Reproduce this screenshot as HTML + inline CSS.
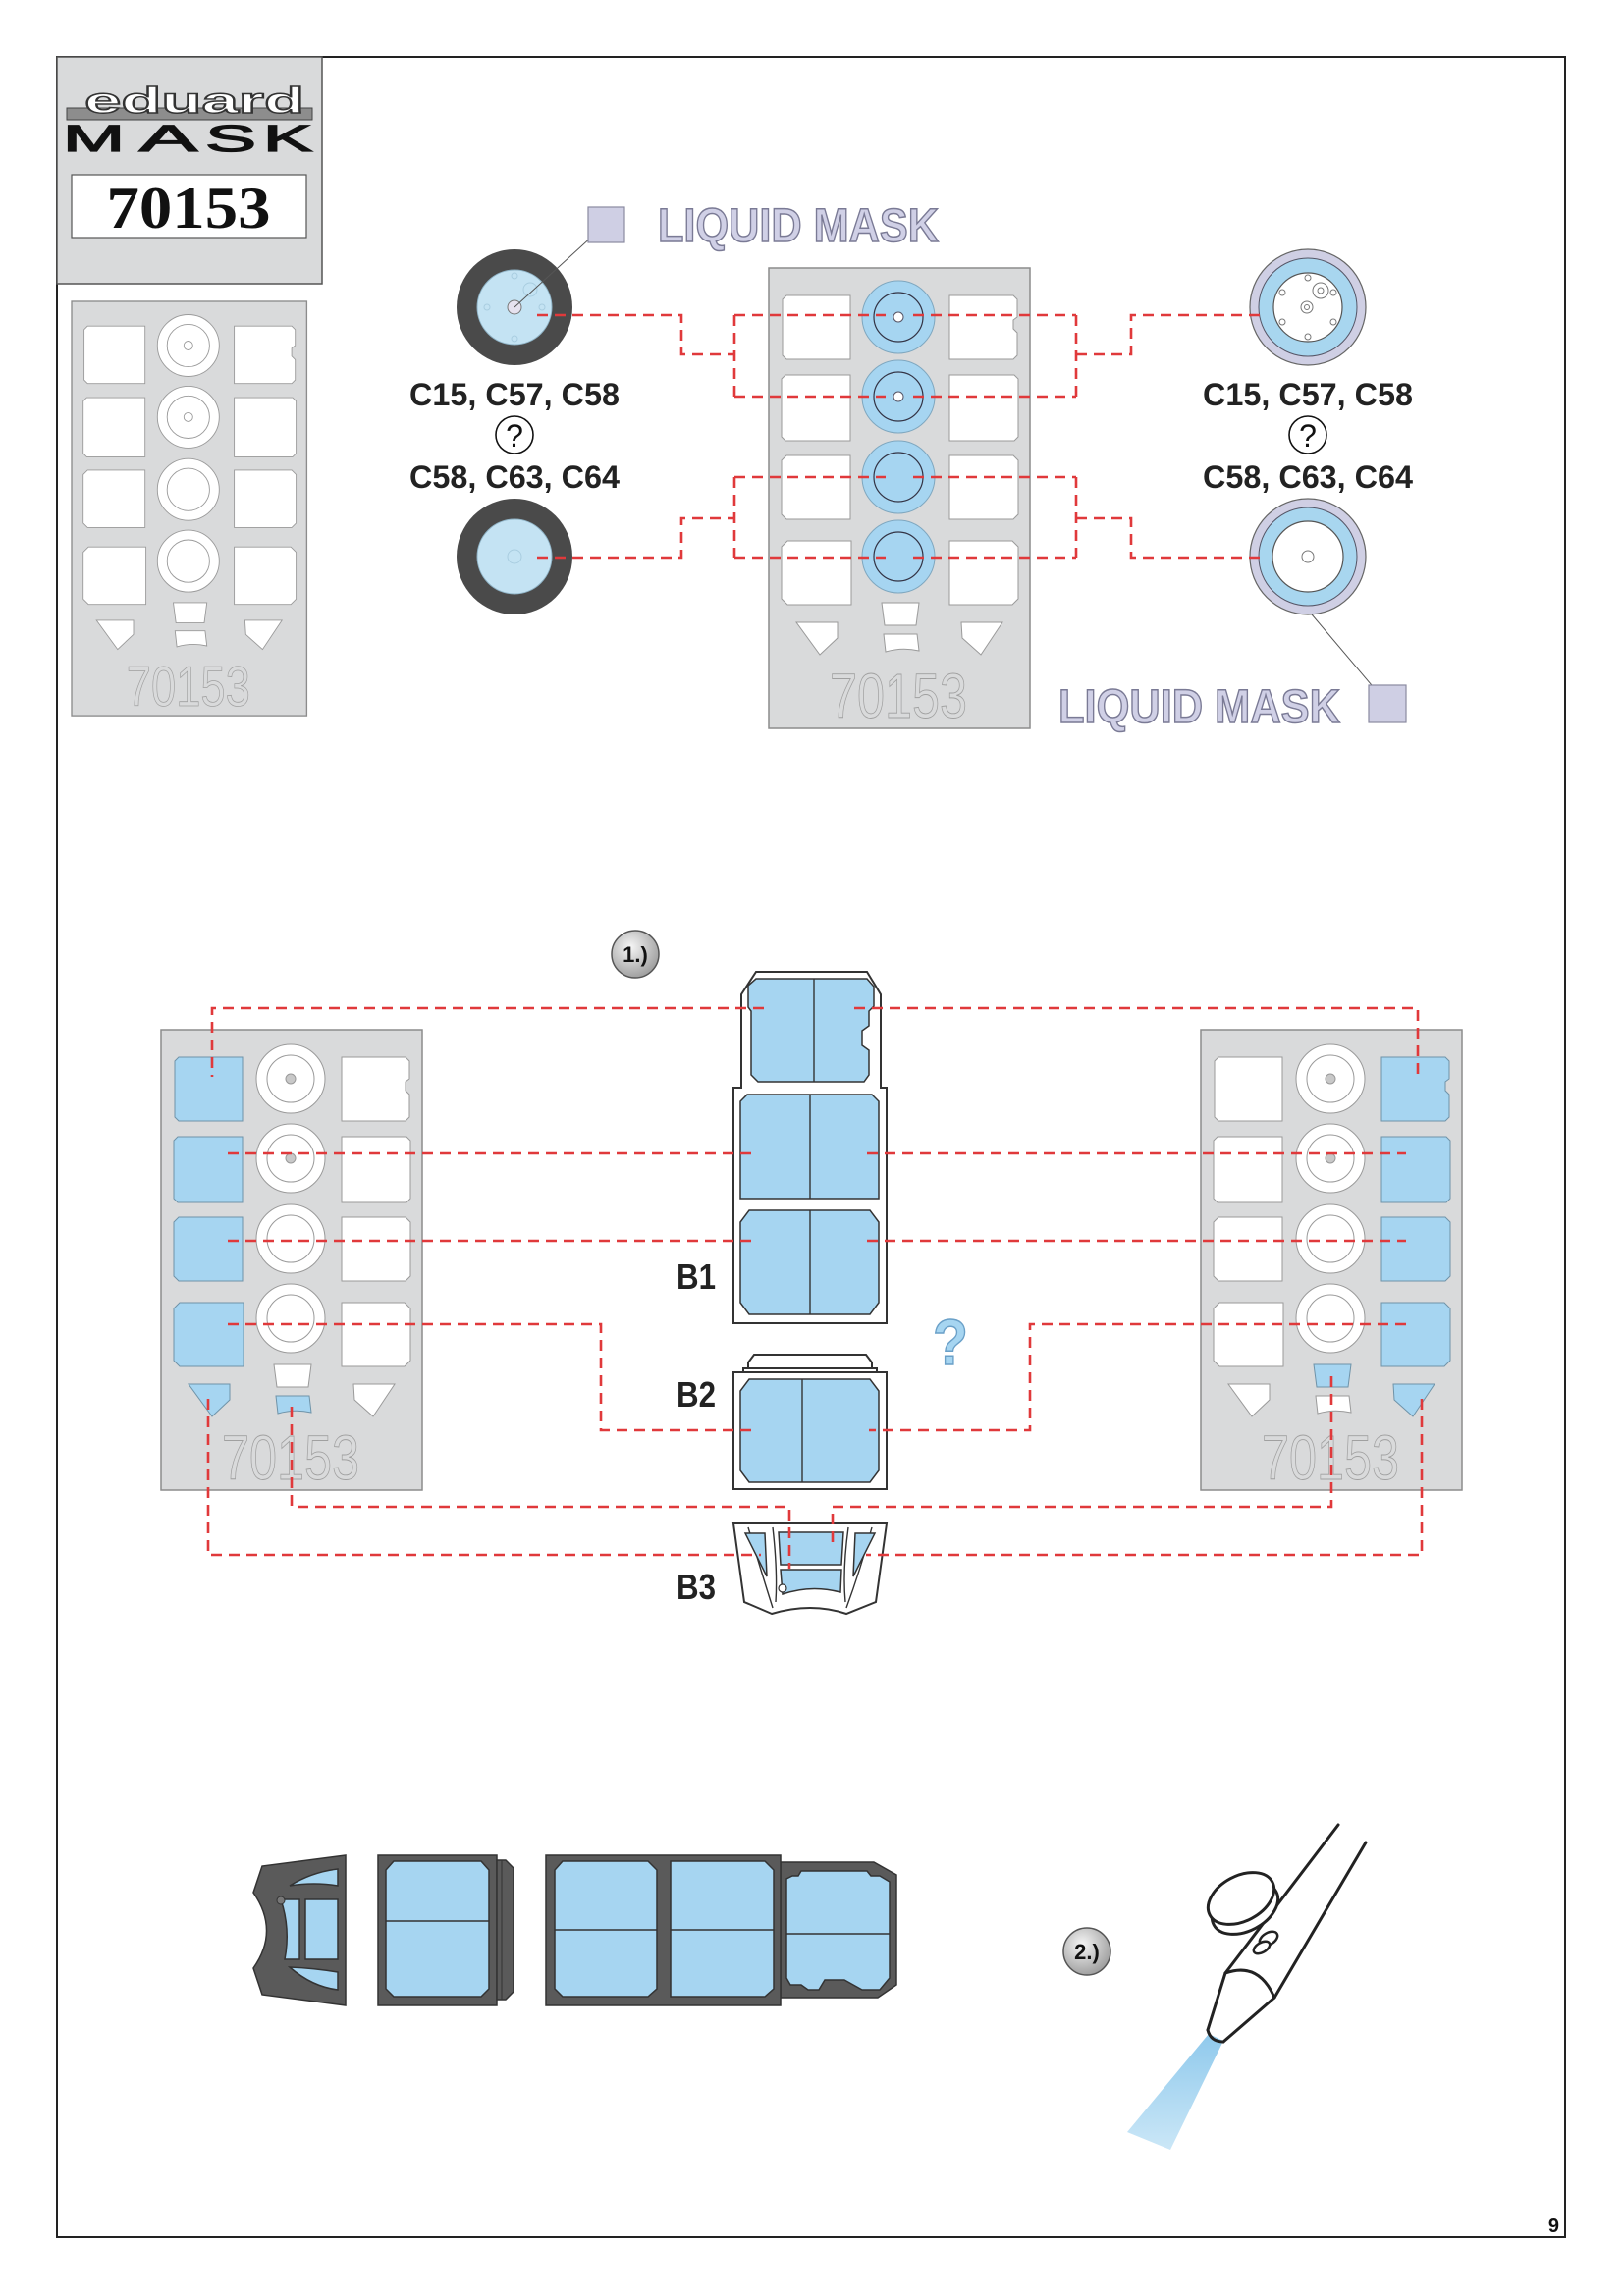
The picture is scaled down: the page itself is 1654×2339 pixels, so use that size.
<!DOCTYPE html>
<html><head><meta charset="utf-8">
<style>
html,body{margin:0;padding:0;background:#fff;}
svg{display:block;}
text{font-family:"Liberation Sans",Arial,sans-serif;}
.w{fill:#fff;stroke:#9a9a9a;stroke-width:1;}
.wn{fill:none;stroke:#9a9a9a;stroke-width:1;}
.b{fill:#a6d5f1;stroke:#6f93a8;stroke-width:1;}
.sh{fill:#d9dadb;stroke:#8c8c8c;stroke-width:1.5;}
.d{fill:none;stroke:#e0393b;stroke-width:2.6;stroke-dasharray:11 7;}
.cn{fill:#fff;stroke:#333;stroke-width:2;}
.cb{fill:#a6d5f1;stroke:#333;stroke-width:1.5;}
.ln{stroke:#333;stroke-width:1.4;fill:none;}
.num{fill:none;stroke:#a0a0a0;stroke-width:0.9;font-size:64px;}
.lbl{font-weight:bold;font-size:32px;fill:#222;}
.lm{font-weight:bold;font-size:48px;fill:#d0d0e6;stroke:#7a7a95;stroke-width:1.5;}
.dk{fill:#5a5a5a;stroke:#333;stroke-width:1.5;}
.bl{font-weight:bold;font-size:36px;fill:#222;}
.mk{font-size:38px;fill:#111;stroke:#111;stroke-width:1.3;}
</style></head><body>
<svg width="1654" height="2339" viewBox="0 0 1654 2339" xmlns="http://www.w3.org/2000/svg">
<defs>
<path id="L1" d="M18,28 H83 V93 H18 L14,89 V32 Z"/>
<path id="L2" d="M17,109 H83 V176 H17 L13,172 V113 Z"/>
<path id="L3" d="M18,191 H83 V256 H18 L13,251 V196 Z"/>
<path id="L4" d="M19,278 H84 V343 H19 L13,337 V284 Z"/>
<path id="R1" d="M184,28 H249 L253,32 V50 L249,53 V62 L253,66 V89 L249,93 H184 Z"/>
<path id="R2" d="M184,109 H250 L254,113 V172 L250,176 H184 Z"/>
<path id="R3" d="M184,191 H249 L254,196 V251 L249,256 H184 Z"/>
<path id="R4" d="M184,278 H248 L254,284 V337 L248,343 H184 Z"/>
<path id="TL" d="M28,361 H70 V377 L52,394 Z"/>
<path id="TR" d="M196,361 H238 L216,394 L197,377 Z"/>
<path id="MU" d="M115,341 H153 L150,364 H118 Z"/>
<path id="ML" d="M117,373 H151 L153,390 Q136,386 119,391 Z"/>
<radialGradient id="badge" cx="40%" cy="35%" r="70%"><stop offset="0" stop-color="#f6f6f6"/><stop offset="1" stop-color="#9a9a9a"/></radialGradient>
<linearGradient id="spray" x1="0" y1="0" x2="0" y2="1"><stop offset="0" stop-color="#8fc9ec"/><stop offset="1" stop-color="#cbe7f7"/></linearGradient>
</defs>

<rect x="58" y="58" width="1536" height="2221" fill="#fff" stroke="#222" stroke-width="2"/>

<!-- logo -->
<rect x="58" y="58" width="270" height="231" fill="#d9dadb" stroke="#555" stroke-width="1.5"/>
<rect x="68" y="110" width="250" height="12" fill="#8d8d8d" stroke="#444" stroke-width="1"/>
<text x="86" y="115" font-size="37" font-weight="bold" textLength="224" lengthAdjust="spacingAndGlyphs" fill="#fff" stroke="#333" stroke-width="1.4">eduard</text>
<text x="64" y="154" class="mk" textLength="63" lengthAdjust="spacingAndGlyphs">M</text>
<text x="142" y="154" class="mk" textLength="59" lengthAdjust="spacingAndGlyphs">A</text>
<text x="209" y="154" class="mk" textLength="52" lengthAdjust="spacingAndGlyphs">S</text>
<text x="268" y="154" class="mk" textLength="50" lengthAdjust="spacingAndGlyphs">K</text>
<rect x="73" y="178" width="239" height="64" fill="#fff" stroke="#555" stroke-width="1.2"/>
<text x="192" y="232" text-anchor="middle" font-weight="bold" font-size="60" textLength="167" lengthAdjust="spacingAndGlyphs" fill="#111" style="font-family:'Liberation Serif',serif">70153</text>

<!-- Sheet A: top-left -->
<g transform="translate(73,307) scale(0.9)">
<rect width="266" height="469" class="sh"/>
<use href="#L1" class="w"/><use href="#L2" class="w"/><use href="#L3" class="w"/><use href="#L4" class="w"/>
<use href="#R1" class="w"/><use href="#R2" class="w"/><use href="#R3" class="w"/><use href="#R4" class="w"/>
<use href="#TL" class="w"/><use href="#TR" class="w"/><use href="#MU" class="w"/><use href="#ML" class="w"/>
<circle cx="132" cy="50" r="35" class="w"/><circle cx="132" cy="50" r="24" class="wn"/><circle cx="132" cy="50" r="5" class="w"/>
<circle cx="132" cy="131" r="35" class="w"/><circle cx="132" cy="131" r="24" class="wn"/><circle cx="132" cy="131" r="5" class="w"/>
<circle cx="132" cy="213" r="35" class="w"/><circle cx="132" cy="213" r="24" class="wn"/>
<circle cx="132" cy="294" r="35" class="w"/><circle cx="132" cy="294" r="24" class="wn"/>
<text x="132" y="458" text-anchor="middle" class="num" textLength="140" lengthAdjust="spacingAndGlyphs">70153</text>
</g>

<!-- Sheet B: top-middle -->
<g transform="translate(783,273)">
<rect width="266" height="469" class="sh"/>
<use href="#L1" class="w"/><use href="#L2" class="w"/><use href="#L3" class="w"/><use href="#L4" class="w"/>
<use href="#R1" class="w"/><use href="#R2" class="w"/><use href="#R3" class="w"/><use href="#R4" class="w"/>
<use href="#TL" class="w"/><use href="#TR" class="w"/><use href="#MU" class="w"/><use href="#ML" class="w"/>
<g fill="#a6d5f1" stroke="#7fa7bf" stroke-width="1">
<circle cx="132" cy="50" r="37"/><circle cx="132" cy="131" r="37"/><circle cx="132" cy="213" r="37"/><circle cx="132" cy="294" r="37"/>
</g>
<g fill="none" stroke="#334" stroke-width="1.2">
<circle cx="132" cy="50" r="25"/><circle cx="132" cy="131" r="25"/><circle cx="132" cy="213" r="25"/><circle cx="132" cy="294" r="25"/>
</g>
<circle cx="132" cy="50" r="5" fill="#fff" stroke="#556"/><circle cx="132" cy="131" r="5" fill="#fff" stroke="#556"/>
<text x="132" y="458" text-anchor="middle" class="num" textLength="140" lengthAdjust="spacingAndGlyphs">70153</text>
</g>

<!-- top section wheels -->
<circle cx="524" cy="313" r="59" fill="#4a4a4a"/>
<circle cx="524" cy="313" r="38" fill="#c4e3f3" stroke="#8fb3c6" stroke-width="1"/>
<g fill="none" stroke="#a9cde0" stroke-width="1"><circle cx="540" cy="295" r="7"/><circle cx="524" cy="281" r="3"/><circle cx="552" cy="313" r="3"/><circle cx="496" cy="313" r="3"/><circle cx="524" cy="345" r="3"/></g>
<circle cx="524" cy="313" r="7" fill="#e6e2ef" stroke="#777" stroke-width="1"/>
<line x1="524" y1="313" x2="616" y2="229" stroke="#555" stroke-width="1"/>

<circle cx="524" cy="567" r="59" fill="#4a4a4a"/>
<circle cx="524" cy="567" r="38" fill="#c4e3f3" stroke="#8fb3c6" stroke-width="1"/>
<circle cx="524" cy="567" r="7" fill="none" stroke="#a9cde0" stroke-width="1"/>

<text x="524" y="413" text-anchor="middle" class="lbl" textLength="214" lengthAdjust="spacingAndGlyphs">C15, C57, C58</text>
<circle cx="524" cy="443" r="19" fill="#fff" stroke="#111" stroke-width="1.6"/>
<text x="524" y="455" text-anchor="middle" font-size="32" fill="#111">?</text>
<text x="524" y="497" text-anchor="middle" class="lbl" textLength="214" lengthAdjust="spacingAndGlyphs">C58, C63, C64</text>

<!-- right wheels -->
<circle cx="1332" cy="313" r="59" fill="#cfcfe4" stroke="#666" stroke-width="1.2"/>
<circle cx="1332" cy="313" r="50" fill="#a8d6ef" stroke="#556" stroke-width="1"/>
<circle cx="1332" cy="313" r="35" fill="#fff" stroke="#555" stroke-width="1.2"/>
<g fill="#fff" stroke="#777" stroke-width="1">
<circle cx="1332" cy="283" r="3"/><circle cx="1358" cy="298" r="3"/><circle cx="1358" cy="328" r="3"/><circle cx="1332" cy="343" r="3"/><circle cx="1306" cy="328" r="3"/><circle cx="1306" cy="298" r="3"/>
<circle cx="1345" cy="296" r="8"/><circle cx="1345" cy="296" r="3"/><circle cx="1331" cy="313" r="6"/><circle cx="1331" cy="313" r="2.5"/>
</g>
<circle cx="1332" cy="567" r="59" fill="#cfcfe4" stroke="#666" stroke-width="1.2"/>
<circle cx="1332" cy="567" r="50" fill="#a8d6ef" stroke="#556" stroke-width="1"/>
<circle cx="1332" cy="567" r="36" fill="#fff" stroke="#555" stroke-width="1.2"/>
<circle cx="1332" cy="567" r="6" fill="#fff" stroke="#777" stroke-width="1"/>
<line x1="1336" y1="626" x2="1413" y2="717" stroke="#555" stroke-width="1"/>

<text x="1332" y="413" text-anchor="middle" class="lbl" textLength="214" lengthAdjust="spacingAndGlyphs">C15, C57, C58</text>
<circle cx="1332" cy="443" r="19" fill="#fff" stroke="#111" stroke-width="1.6"/>
<text x="1332" y="455" text-anchor="middle" font-size="32" fill="#111">?</text>
<text x="1332" y="497" text-anchor="middle" class="lbl" textLength="214" lengthAdjust="spacingAndGlyphs">C58, C63, C64</text>

<!-- liquid mask labels -->
<rect x="599" y="211" width="37" height="36" fill="#cfcfe4" stroke="#8a8aa0" stroke-width="1.2"/>
<text x="670" y="246" class="lm" textLength="286" lengthAdjust="spacingAndGlyphs">LIQUID MASK</text>
<rect x="1394" y="698" width="38" height="38" fill="#cfcfe4" stroke="#8a8aa0" stroke-width="1.2"/>
<text x="1078" y="736" class="lm" textLength="287" lengthAdjust="spacingAndGlyphs">LIQUID MASK</text>

<!-- top dashed -->
<path class="d" d="M547,321 H694 V361 H748 M748,321 V404 M748,321 H902 M748,404 H902"/>
<path class="d" d="M547,568 H694 V528 H748 M748,486 V568 M748,486 H902 M748,568 H902"/>
<path class="d" d="M930,321 H1096 M930,404 H1096 M1096,321 V404 M1096,361 H1152 V321 H1288"/>
<path class="d" d="M930,486 H1096 M930,568 H1096 M1096,486 V568 M1096,528 H1152 V568 H1290"/>

<!-- step 1 badge -->
<circle cx="647" cy="972" r="24" fill="url(#badge)" stroke="#555" stroke-width="1.5"/>
<text x="647" y="980" text-anchor="middle" font-size="22" font-weight="bold" fill="#111">1.)</text>

<!-- Sheet C: step1 left -->
<g transform="translate(164,1049)">
<rect width="266" height="469" class="sh"/>
<use href="#L1" class="b"/><use href="#L2" class="b"/><use href="#L3" class="b"/><use href="#L4" class="b"/>
<use href="#R1" class="w"/><use href="#R2" class="w"/><use href="#R3" class="w"/><use href="#R4" class="w"/>
<use href="#TL" class="b"/><use href="#TR" class="w"/><use href="#MU" class="w"/><use href="#ML" class="b"/>
<circle cx="132" cy="50" r="35" class="w"/><circle cx="132" cy="50" r="24" class="wn"/><circle cx="132" cy="50" r="5" fill="#c8c8c8" stroke="#999"/>
<circle cx="132" cy="131" r="35" class="w"/><circle cx="132" cy="131" r="24" class="wn"/><circle cx="132" cy="131" r="5" fill="#c8c8c8" stroke="#999"/>
<circle cx="132" cy="213" r="35" class="w"/><circle cx="132" cy="213" r="24" class="wn"/>
<circle cx="132" cy="294" r="35" class="w"/><circle cx="132" cy="294" r="24" class="wn"/>
<text x="132" y="458" text-anchor="middle" class="num" textLength="140" lengthAdjust="spacingAndGlyphs">70153</text>
</g>

<!-- Sheet D: step1 right -->
<g transform="translate(1223,1049)">
<rect width="266" height="469" class="sh"/>
<use href="#L1" class="w"/><use href="#L2" class="w"/><use href="#L3" class="w"/><use href="#L4" class="w"/>
<use href="#R1" class="b"/><use href="#R2" class="b"/><use href="#R3" class="b"/><use href="#R4" class="b"/>
<use href="#TL" class="w"/><use href="#TR" class="b"/><use href="#MU" class="b"/><use href="#ML" class="w"/>
<circle cx="132" cy="50" r="35" class="w"/><circle cx="132" cy="50" r="24" class="wn"/><circle cx="132" cy="50" r="5" fill="#c8c8c8" stroke="#999"/>
<circle cx="132" cy="131" r="35" class="w"/><circle cx="132" cy="131" r="24" class="wn"/><circle cx="132" cy="131" r="5" fill="#c8c8c8" stroke="#999"/>
<circle cx="132" cy="213" r="35" class="w"/><circle cx="132" cy="213" r="24" class="wn"/>
<circle cx="132" cy="294" r="35" class="w"/><circle cx="132" cy="294" r="24" class="wn"/>
<text x="132" y="458" text-anchor="middle" class="num" textLength="140" lengthAdjust="spacingAndGlyphs">70153</text>
</g>

<!-- B1 -->
<path class="cn" d="M770,990 H883 L897,1013 V1108 H903 V1348 H747 V1108 H755 V1013 Z"/>
<path class="cb" d="M770,997 H883 L890,1005 V1025 L885,1030 V1045 L878,1050 V1065 L885,1070 V1095 L880,1102 H772 L765,1095 V1030 L762,1026 V1004 Z"/>
<line x1="829" y1="997" x2="829" y2="1102" class="ln"/>
<path class="cb" d="M761,1115 H888 L895,1122 V1221 H754 V1122 Z"/>
<line x1="825" y1="1115" x2="825" y2="1221" class="ln"/>
<path class="cb" d="M763,1233 H886 L895,1245 V1327 L886,1339 H763 L754,1327 V1245 Z"/>
<line x1="825" y1="1233" x2="825" y2="1339" class="ln"/>

<!-- B2 -->
<path class="cn" d="M768,1380 H882 L888,1388 V1394 H762 V1388 Z"/>
<rect x="757" y="1394" width="136" height="4" class="cn" stroke-width="1.5"/>
<rect x="747" y="1398" width="156" height="119" class="cn"/>
<path class="cb" d="M763,1405 H886 L895,1417 V1498 L886,1510 H763 L754,1498 V1417 Z"/>
<line x1="817" y1="1405" x2="817" y2="1510" class="ln"/>

<!-- B3 -->
<path class="cn" d="M747,1552 H903 L892,1632 L862,1644 Q826,1632 786,1644 L758,1632 Z"/>
<path class="ln" d="M762,1556 Q775,1600 787,1638 M888,1556 Q876,1600 862,1638 M787,1556 Q792,1600 790,1632 M864,1556 Q858,1600 861,1632"/>
<path class="cb" stroke-width="1.2" d="M759,1562 H779 L781,1606 Z"/>
<path class="cb" stroke-width="1.2" d="M871,1562 H891 L869,1606 Z"/>
<path class="cb" stroke-width="1.2" d="M793,1561 H859 L857,1594 H795 Z"/>
<path class="cb" stroke-width="1.2" d="M795,1599 H857 L856,1622 Q826,1614 797,1624 Z"/>
<circle cx="797" cy="1618" r="4" fill="#fff" stroke="#333" stroke-width="1.2"/>

<text x="689" y="1313" class="bl" textLength="40" lengthAdjust="spacingAndGlyphs">B1</text>
<text x="689" y="1433" class="bl" textLength="40" lengthAdjust="spacingAndGlyphs">B2</text>
<text x="689" y="1629" class="bl" textLength="40" lengthAdjust="spacingAndGlyphs">B3</text>

<text x="968" y="1390" text-anchor="middle" font-size="66" font-weight="bold" fill="#a6d5f1" stroke="#6aa0c8" stroke-width="1.5" textLength="36" lengthAdjust="spacingAndGlyphs">?</text>

<!-- step1 dashed -->
<path class="d" d="M778,1027 H216 V1097"/>
<path class="d" d="M870,1027 H1444 V1097"/>
<path class="d" d="M232,1175 H772 M883,1175 H1432"/>
<path class="d" d="M232,1264 H772 M883,1264 H1432"/>
<path class="d" d="M232,1349 H612 V1457 H770"/>
<path class="d" d="M1432,1349 H1049 V1457 H885"/>
<path class="d" d="M297,1433 V1535 H804 V1598"/>
<path class="d" d="M1356,1402 V1535 H848 V1578"/>
<path class="d" d="M212,1425 V1584 H775"/>
<path class="d" d="M1448,1425 V1584 H882"/>

<!-- section 2 pieces -->
<path class="dk" d="M352,1890 L267,1901 L258,1928 Q285,1967 258,2005 L267,2032 L352,2043 Z"/>
<path class="cb" stroke-width="1.2" d="M295,1921 Q318,1907 344,1904 L344,1921 Q320,1917 295,1921 Z"/>
<path class="cb" stroke-width="1.2" d="M286,1935 L305,1935 L305,1996 L290,1996 Q296,1965 286,1935 Z"/>
<rect x="311" y="1935" width="33" height="61" class="cb" stroke-width="1.2"/>
<path class="cb" stroke-width="1.2" d="M295,2004 Q320,2005 344,2009 L344,2027 Q318,2024 295,2004 Z"/>
<circle cx="286" cy="1936" r="4" fill="#777" stroke="#333" stroke-width="1"/>

<rect x="385" y="1890" width="121" height="153" class="dk"/>
<path class="dk" d="M506,1895 H515 L523,1903 V2029 L515,2037 H506 Z"/>
<line x1="511" y1="1895" x2="511" y2="2037" stroke="#333" stroke-width="1"/>
<path class="cb" d="M401,1896 H490 L498,1905 V2026 L490,2034 H401 L393,2026 V1905 Z"/>
<line x1="393" y1="1957" x2="498" y2="1957" class="ln"/>

<path class="dk" d="M795,1897 H890 L913,1910 V2022 L894,2035 H795 Z"/>
<rect x="556" y="1890" width="239" height="153" class="dk"/>
<path class="cb" d="M573,1896 H660 L669,1905 V2026 L660,2034 H573 L565,2026 V1905 Z"/>
<line x1="565" y1="1966" x2="669" y2="1966" class="ln"/>
<path class="cb" d="M683,1896 H779 L788,1905 V2026 L779,2034 H683 Z"/>
<line x1="683" y1="1966" x2="788" y2="1966" class="ln"/>
<path class="cb" d="M816,1906 H883 L887,1911 H896 L906,1917 V2015 L896,2027 H878 L869,2022 L860,2017 H840 L834,2027 H823 L816,2022 H805 L801,2015 V1914 L807,1911 H813 Z"/>
<line x1="801" y1="1970" x2="906" y2="1970" class="ln"/>

<!-- step 2 badge -->
<circle cx="1107" cy="1988" r="24" fill="url(#badge)" stroke="#555" stroke-width="1.5"/>
<text x="1107" y="1996" text-anchor="middle" font-size="22" font-weight="bold" fill="#111">2.)</text>

<!-- airbrush -->
<polygon points="1231,2072 1246,2079 1192,2190 1148,2172" fill="url(#spray)"/>
<g fill="none" stroke="#222" stroke-width="3" stroke-linecap="round" stroke-linejoin="round">
<path d="M1363,1859 L1248,2010"/>
<path d="M1391,1877 L1298,2035"/>
<path d="M1248,2010 Q1282,1998 1298,2035"/>
<path d="M1248,2010 L1230,2068"/>
<path d="M1298,2035 L1246,2080"/>
<path d="M1230,2068 Q1233,2080 1246,2080"/>
</g>
<ellipse cx="1268" cy="1944" rx="36" ry="23" transform="rotate(-28 1268 1944)" fill="#fff" stroke="#222" stroke-width="3"/>
<ellipse cx="1264" cy="1934" rx="36" ry="23" transform="rotate(-28 1264 1934)" fill="#fff" stroke="#222" stroke-width="3"/>
<ellipse cx="1292" cy="1975" rx="10" ry="6" transform="rotate(-30 1292 1975)" fill="#fff" stroke="#222" stroke-width="2.5"/>
<ellipse cx="1285" cy="1984" rx="9" ry="5" transform="rotate(-30 1285 1984)" fill="#fff" stroke="#222" stroke-width="2.5"/>

<text x="1588" y="2274" text-anchor="end" font-size="20" font-weight="bold" fill="#111">9</text>
</svg>
</body></html>
